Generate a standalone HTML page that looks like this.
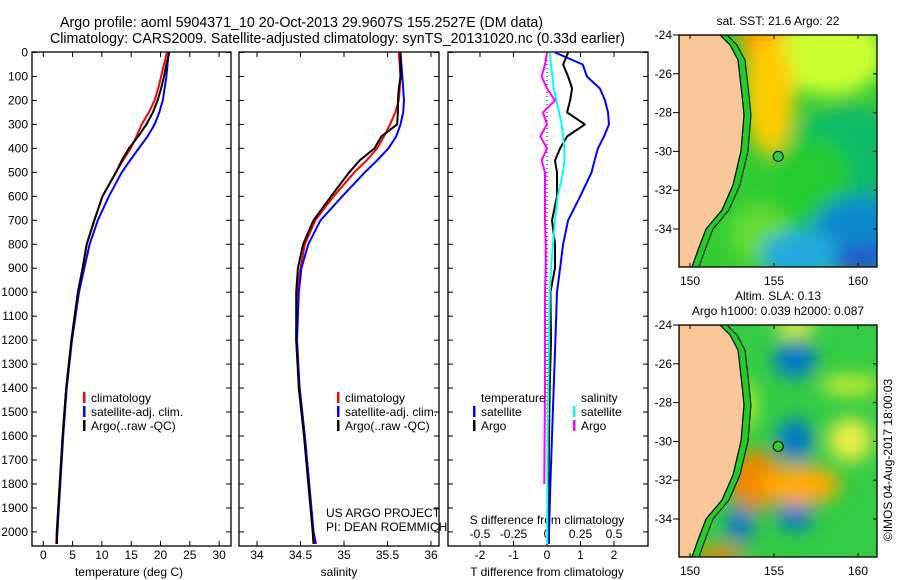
<!DOCTYPE html>
<html><head><meta charset="utf-8"><style>
body{margin:0;background:#fff;}
svg{display:block;font-family:"Liberation Sans",sans-serif;}
text{font-size:12px;fill:#000;}
</style></head><body>
<svg id="c" width="900" height="580" viewBox="0 0 900 580">
<defs>
<filter id="bl" x="-20%" y="-20%" width="140%" height="140%"><feGaussianBlur stdDeviation="9"/></filter>
<clipPath id="m1c"><rect x="679" y="35" width="198" height="232"/></clipPath>
<clipPath id="m2c"><rect x="679" y="325" width="198" height="232"/></clipPath>
</defs>
<text x="60" y="27" font-size="15" style="font-size:15px" textLength="483" lengthAdjust="spacingAndGlyphs">Argo profile: aoml 5904371_10 20-Oct-2013 29.9607S 155.2527E (DM data)</text>
<text x="50" y="43" font-size="15" style="font-size:15px" textLength="575" lengthAdjust="spacingAndGlyphs">Climatology: CARS2009. Satellite-adjusted climatology: synTS_20131020.nc (0.33d earlier)</text>
<g id="plots"></g>
<g id="maps"></g>
</svg>
<script>
// ---- data ----
const depths   = [0,50,100,150,200,250,300,350,400,450,500,600,700,800,900,1000,1200,1400,1600,1800,2000,2050];
const tempClim = [21.1,20.6,20.1,19.6,19.0,18.0,16.8,15.9,14.9,13.6,12.4,10.1,8.7,7.4,6.7,5.9,4.8,3.9,3.3,2.8,2.3,2.2];
const tempSat  = [21.4,21.2,21.0,20.7,20.4,19.8,19.0,17.8,16.3,14.8,13.4,11.2,9.3,7.9,7.0,6.1,4.9,4.0,3.4,2.9,2.4,2.3];
const tempArgo = [21.5,21.0,20.6,20.1,19.5,18.7,17.6,16.2,14.6,13.4,12.4,10.1,8.7,7.4,6.7,5.9,4.8,3.9,3.3,2.8,2.3,2.3];
const salClim  = [35.63,35.64,35.65,35.64,35.63,35.59,35.53,35.46,35.38,35.26,35.12,34.88,34.67,34.55,34.50,34.46,34.45,34.49,34.55,34.60,34.65,34.68];
const salSat   = [35.65,35.66,35.67,35.68,35.69,35.68,35.65,35.60,35.51,35.38,35.24,34.98,34.73,34.59,34.51,34.48,34.46,34.49,34.55,34.60,34.65,34.67];
const salArgo  = [35.65,35.65,35.65,35.63,35.62,35.62,35.61,35.43,35.35,35.18,35.06,34.85,34.65,34.53,34.47,34.45,34.45,34.48,34.54,34.59,34.64,34.65];
const dT_sat   = [0.24,1.07,1.19,1.58,1.73,1.82,1.85,1.70,1.52,1.42,1.33,0.99,0.63,0.48,0.39,0.30,0.25,0.20,0.15,0.10,0.06,0.06];
const dT_argo  = [0.63,0.48,0.63,0.75,0.69,0.60,1.13,0.60,0.39,0.24,0.30,0.30,0.15,0.24,0.24,0.10,0.12,0.08,0.06,0.05,0.03,0.03];
const dS_sat   = [0.02,0.03,0.04,0.05,0.07,0.09,0.11,0.12,0.13,0.13,0.12,0.08,0.06,0.045,0.03,0.02,0.015,0.01,0.005,0.003,0.002,0.002];
const dS_argo  = [0,-0.015,-0.04,0,0.06,-0.03,0,-0.05,0,-0.04,-0.015,-0.015,-0.015,-0.01,-0.01,-0.015,-0.015,-0.015,-0.018,-0.02];
const depthTicks = [0,100,200,300,400,500,600,700,800,900,1000,1100,1200,1300,1400,1500,1600,1700,1800,1900,2000];
const tempTicks = [0,5,10,15,20,25,30];
const salTicks  = [34,34.5,35,35.5,36];
const tdTicks   = [-2,-1,0,1,2];
const sdTicks   = [-0.5,-0.25,0,0.25,0.5];
const sdLabels  = ['-0.5','-0.25','0','0.25','0.5'];

const NS='http://www.w3.org/2000/svg';
const P=document.getElementById('plots');
function mk(tag,attrs,parent){const e=document.createElementNS(NS,tag);for(const k in attrs)e.setAttribute(k,attrs[k]);(parent||P).appendChild(e);return e;}
const y=d=>52.5+d*0.2397;
const xT=v=>43.3+v*5.86;
const xS=v=>257+(v-34)*87;
const xTD=v=>547+v*33.5;
const xSD=v=>547+v*134;
const TOP=52,BOT=546;
const panels=[[32,231],[239,439],[448,648]];
panels.forEach((p,i)=>{
  const r=mk('rect',{x:p[0],y:TOP,width:p[1]-p[0],height:BOT-TOP,fill:'none',stroke:'#000','stroke-width':1.3});
  
  
  depthTicks.forEach(d=>{
    mk('line',{x1:p[0],x2:p[0]+5,y1:y(d),y2:y(d),stroke:'#000'});
    mk('line',{x1:p[1]-5,x2:p[1],y1:y(d),y2:y(d),stroke:'#000'});
  });
});
depthTicks.forEach(d=>{
  const t=mk('text',{x:28,y:y(d)+4,'text-anchor':'end'});t.textContent=d;
  
  
});
function xaxis(ticks,fx,labels,ly,top){
  ticks.forEach((v,i)=>{
    const x=fx(v);
    mk('line',{x1:x,x2:x,y1:BOT-5,y2:BOT,stroke:'#000'});
    if(top) mk('line',{x1:x,x2:x,y1:TOP,y2:TOP+5,stroke:'#000'});
    const t=mk('text',{x:x,y:ly,'text-anchor':'middle'});t.textContent=labels?labels[i]:v;
    
    
  });
}
xaxis(tempTicks,xT,null,559,true);
xaxis(salTicks,xS,null,559,true);
xaxis(tdTicks,xTD,null,559,true);
sdTicks.forEach((v,i)=>{const t=mk('text',{x:xSD(v),y:538,'text-anchor':'middle'});t.textContent=sdLabels[i];
  
  });
function label(txt,x,yy,name,anchor){const t=mk('text',{x:x,y:yy,'text-anchor':anchor||'middle'});t.textContent=txt;
  
  return t;}
label('temperature (deg C)',129,576,'x-axis-title-temperature');
label('salinity',339,576,'x-axis-title-salinity');
label('T difference from climatology',547,576,'x-axis-title-t-diff');
label('S difference from climatology',547,524,'x-axis-title-s-diff');
label('US ARGO PROJECT',326,517,'credit-project','start');
label('PI: DEAN ROEMMICH',326,531,'credit-pi','start');
// zero dotted line
mk('line',{x1:xTD(0),x2:xTD(0),y1:TOP,y2:BOT,stroke:'#000','stroke-dasharray':'1,3'});
function line(vals,fx,color,w,name){
  const pts=vals.map((v,i)=>fx(v).toFixed(1)+','+y(depths[i]).toFixed(1)).join(' ');
  const e=mk('polyline',{points:pts,fill:'none',stroke:color,'stroke-width':w,'stroke-linejoin':'round'});
  
  
}
line(tempClim,xT,'#f00',2,'temp-climatology-line');
line(tempSat,xT,'#00f',2,'temp-satellite-line');
line(tempArgo,xT,'#000',2,'temp-argo-line');
line(salClim,xS,'#f00',2,'sal-climatology-line');
line(salSat,xS,'#00f',2,'sal-satellite-line');
line(salArgo,xS,'#000',2,'sal-argo-line');
line(dT_sat,xTD,'#00f',2,'tdiff-satellite-line');
line(dT_argo,xTD,'#000',2,'tdiff-argo-line');
line(dS_sat,xSD,'#0ff',2,'sdiff-satellite-line');
line(dS_argo,xSD,'#f0f',2,'sdiff-argo-line');
function leg(x,yy,color,txt,name){
  const g=mk('g',{});
  
  
  mk('rect',{x:x,y:yy-10,width:2.5,height:11,fill:color},g);
  const t=mk('text',{x:x+8,y:yy},g);t.textContent=txt;
}
[[83,'climatology','#f00'],[83,'satellite-adj. clim.','#00f'],[83,'Argo(..raw -QC)','#000']].forEach((l,i)=>leg(l[0],402+i*14,l[2],l[1],'legend-temp-'+i));
[[337,'climatology','#f00'],[337,'satellite-adj. clim.','#00f'],[337,'Argo(..raw -QC)','#000']].forEach((l,i)=>leg(l[0],402+i*14,l[2],l[1],'legend-sal-'+i));
label('temperature',481,402,'legend-title-temperature','start');
label('salinity',581,402,'legend-title-salinity','start');
leg(473,416,'#00f','satellite','legend-tdiff-satellite');
leg(473,430,'#000','Argo','legend-tdiff-argo');
leg(573,416,'#0ff','satellite','legend-sdiff-satellite');
leg(573,430,'#f0f','Argo','legend-sdiff-argo');

// ---- maps ----
const M=document.getElementById('maps');
const lonTicks=[150,155,160], latTicks=[-24,-26,-28,-30,-32,-34];
const lx=l=>690+(l-150)*16.8;
function drawMap(oy,blobs,bg,name,titles){
  const g=mk('g',{},M);
  
  
  const cg=mk('g',{'clip-path':'url(#'+(oy<100?'m1c':'m2c')+')'},g);
  mk('rect',{x:679,y:oy,width:198,height:232,fill:bg},cg);
  const bgG=mk('g',{filter:'url(#bl)'},cg);
  blobs.forEach(b=>mk('ellipse',{cx:b[0],cy:oy+b[1],rx:b[2],ry:b[3],fill:b[4]},bgG));
  const coast=[[720,0],[730,10],[738,25],[742,60],[744,80],[741,116],[733,150],[722,175],[706,194],[698,215],[692,232]];
  const shelf=coast.map(p=>[p[0]+7,p[1]]);
  mk('polygon',{points:coast.map(p=>p[0]+','+(oy+p[1])).join(' ')+' '+shelf.slice().reverse().map(p=>p[0]+','+(oy+p[1])).join(' '),fill:'#2c2'},cg);
  mk('polyline',{points:shelf.map(p=>p[0]+','+(oy+p[1])).join(' '),fill:'none',stroke:'#000','stroke-width':1},cg);
  mk('polygon',{points:'679,'+oy+' '+coast.map(p=>p[0]+','+(oy+p[1])).join(' ')+' 679,'+(oy+232),fill:'#fac898',stroke:'#000','stroke-width':1.2},cg);
  mk('circle',{cx:lx(155.25),cy:oy+5+6*19.4,r:5,fill:'#3c3',stroke:'#000'},g);
  mk('rect',{x:679,y:oy,width:198,height:232,fill:'none',stroke:'#000','stroke-width':1.3},g);
  lonTicks.forEach(l=>{mk('line',{x1:lx(l),x2:lx(l),y1:oy,y2:oy+4,stroke:'#000'},g);mk('line',{x1:lx(l),x2:lx(l),y1:oy+228,y2:oy+232,stroke:'#000'},g);
    const t=mk('text',{x:lx(l),y:oy+250,'text-anchor':'middle'},g);t.textContent=l;});
  latTicks.forEach(la=>{const yy=oy+(-24-la)*19.4;mk('line',{x1:673,x2:679,y1:yy,y2:yy,stroke:'#000'},g);mk('line',{x1:873,x2:877,y1:yy,y2:yy,stroke:'#000'},g);
    const t=mk('text',{x:672,y:yy+4,'text-anchor':'end'},g);t.textContent=la;});
  titles.forEach((tt,i)=>{const t=mk('text',{x:778,y:oy-10+i*15-(titles.length-1)*15,'text-anchor':'middle'},g);t.textContent=tt;});
}
drawMap(35,[[770,5,30,40,'#f90'],[830,20,55,40,'#cf3'],[770,60,25,60,'#fc0'],[850,120,60,50,'#1b6'],[810,150,40,50,'#2c3'],[860,200,50,40,'#18c'],[760,200,30,30,'#6d3'],[800,220,40,25,'#2ad'],[860,225,25,15,'#25c']],'#3c3','sst-map',['sat. SST: 21.6 Argo: 22']);
drawMap(325,[[795,35,22,18,'#07c'],[795,115,18,22,'#07c'],[795,190,18,16,'#07c'],[740,200,14,18,'#07c'],[755,155,28,30,'#e80'],[800,160,40,20,'#fa0'],[850,115,22,22,'#ee4'],[795,2,20,10,'#ee4'],[850,60,30,10,'#ce3'],[745,80,10,25,'#ce3'],[720,230,25,10,'#e80']],'#3c4','sla-map',['Altim. SLA: 0.13','Argo h1000: 0.039 h2000: 0.087']);
const ct=mk('text',{x:892,y:460,'text-anchor':'middle',transform:'rotate(-90 892 460)'},M);ct.textContent='©IMOS 04-Aug-2017 18:00:03';


</script>
</body></html>
